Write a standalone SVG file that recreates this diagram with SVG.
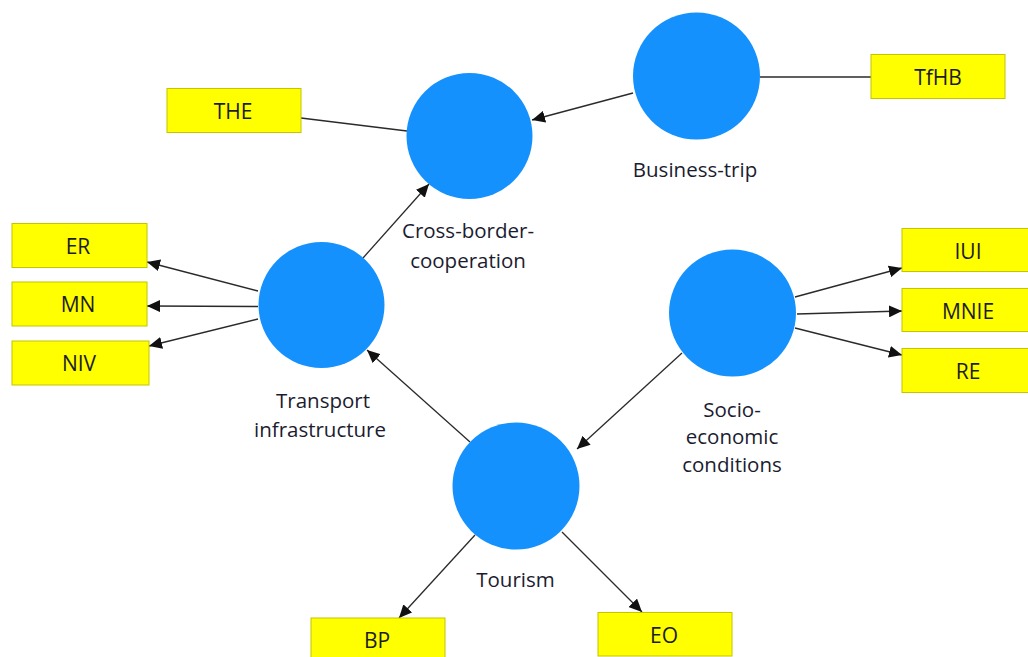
<svg xmlns="http://www.w3.org/2000/svg" width="1028" height="657" viewBox="0 0 1028 657">
<defs>
<marker id="arr" markerUnits="userSpaceOnUse" markerWidth="14" markerHeight="12" refX="13" refY="6" orient="auto">
<path d="M0,0 L13,6 L0,12 z" fill="#111"/>
</marker>
<style>
.lv{fill:#1591fd}
.box{fill:#ffff00;stroke:#c4c400;stroke-width:1}
.bt{font-family:"Open Sans","Noto Sans",sans-serif;font-size:21px;fill:#1c1c24;text-anchor:middle}
.lt{font-family:"Open Sans","Noto Sans",sans-serif;font-size:20.5px;fill:#1c1c30;text-anchor:middle}
.c{stroke:#2a2a2a;stroke-width:1.3;fill:none}
.a{marker-end:url(#arr)}
</style>
</defs>
<rect width="1028" height="657" fill="#fff"/>
<g id="connectors">
<line class="c" x1="301" y1="118" x2="407" y2="131"/>
<line class="c a" x1="633" y1="93" x2="532" y2="120"/>
<line class="c" x1="760" y1="77" x2="871" y2="77"/>
<line class="c a" x1="363" y1="258" x2="429" y2="184"/>
<line class="c a" x1="258" y1="291" x2="147" y2="262"/>
<line class="c a" x1="258" y1="306.5" x2="147" y2="306"/>
<line class="c a" x1="258" y1="319" x2="149" y2="346"/>
<line class="c a" x1="470" y1="442" x2="367" y2="350"/>
<line class="c a" x1="682" y1="353" x2="577" y2="449"/>
<line class="c a" x1="795" y1="297" x2="902" y2="268"/>
<line class="c a" x1="797" y1="314" x2="902" y2="311"/>
<line class="c a" x1="795" y1="328" x2="902" y2="355"/>
<line class="c a" x1="475" y1="535" x2="399" y2="618"/>
<line class="c a" x1="562" y1="532" x2="642" y2="612"/>
</g>
<g id="cross-border-cooperation">
<circle class="lv" cx="469.5" cy="136" r="63"/>
<text class="lt" x="468" y="238">Cross-border-</text>
<text class="lt" x="468" y="268">cooperation</text>
</g>
<g id="business-trip">
<circle class="lv" cx="696.5" cy="76" r="63.5"/>
<text class="lt" x="695" y="177">Business-trip</text>
</g>
<g id="transport-infrastructure">
<circle class="lv" cx="321.5" cy="305" r="63"/>
<text class="lt" x="323" y="408">Transport</text>
<text class="lt" x="320" y="437">infrastructure</text>
</g>
<g id="socio-economic-conditions">
<circle class="lv" cx="732.5" cy="313" r="63.5"/>
<text class="lt" x="732" y="417">Socio-</text>
<text class="lt" x="732" y="444">economic</text>
<text class="lt" x="732" y="472">conditions</text>
</g>
<g id="tourism">
<circle class="lv" cx="516" cy="486" r="63.5"/>
<text class="lt" x="515.5" y="587">Tourism</text>
</g>
<g id="THE"><rect class="box" x="167" y="88.5" width="134" height="44"/><text class="bt" x="233" y="118.5">THE</text></g>
<g id="TfHB"><rect class="box" x="871" y="54.5" width="134" height="44"/><text class="bt" x="938" y="84.5">TfHB</text></g>
<g id="ER"><rect class="box" x="12" y="223.5" width="135" height="44"/><text class="bt" x="78" y="253.5">ER</text></g>
<g id="MN"><rect class="box" x="12" y="282" width="135" height="44"/><text class="bt" x="78" y="312">MN</text></g>
<g id="NIV"><rect class="box" x="12" y="341" width="137" height="44"/><text class="bt" x="79" y="371">NIV</text></g>
<g id="IUI"><rect class="box" x="902" y="228.5" width="134" height="43"/><text class="bt" x="968" y="258.5">IUI</text></g>
<g id="MNIE"><rect class="box" x="902" y="288.5" width="134" height="43"/><text class="bt" x="968" y="318.5">MNIE</text></g>
<g id="RE"><rect class="box" x="902" y="348.5" width="134" height="44"/><text class="bt" x="968" y="378.5">RE</text></g>
<g id="BP"><rect class="box" x="311" y="618" width="134" height="44"/><text class="bt" x="377" y="648">BP</text></g>
<g id="EO"><rect class="box" x="598" y="612.5" width="134" height="43.5"/><text class="bt" x="664" y="642.5">EO</text></g>
</svg>
